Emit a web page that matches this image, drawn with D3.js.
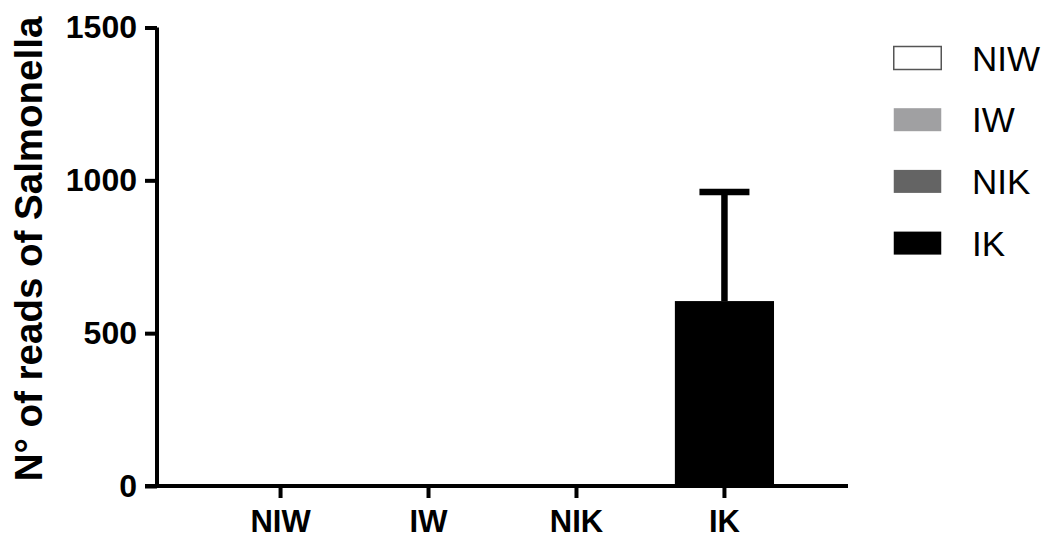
<!DOCTYPE html>
<html>
<head>
<meta charset="utf-8">
<script src="https://cdn.jsdelivr.net/npm/d3@7"></script>
<style>
  body { margin: 0; background: #fff; }
  svg { display: block; font-family: "Liberation Sans", Arial, sans-serif; }
</style>
</head>
<body>
<svg width="1048" height="539"></svg>
<script>
// data
var groups = ['NIW', 'IW', 'NIK', 'IK'];
var means = [0, 0, 0, 605];
var errors = [0, 0, 0, 357];
var fills = ['#ffffff', '#a0a0a2', '#646464', '#000000'];
var yTicks = [0, 500, 1000, 1500];

var svg = d3.select('svg');

var xScale = d3.scaleBand()
  .domain(groups)
  .range([157, 848])
  .paddingInner(0.33)
  .paddingOuter(0.5);

var yScale = d3.scaleLinear()
  .domain([0, 1500])
  .range([486, 27.5]);

// bars
svg.append('g').selectAll('rect').data(groups).enter()
  .append('rect')
  .attr('x', function(d) { return xScale(d); })
  .attr('width', xScale.bandwidth())
  .attr('y', function(d, i) { return yScale(means[i]); })
  .attr('height', function(d, i) { return yScale(0) - yScale(means[i]); })
  .attr('fill', function(d, i) { return fills[i]; });

// error bars (upper only)
var errG = svg.append('g').attr('stroke', '#000').attr('stroke-width', 6.5);
groups.forEach(function(d, i) {
  if (errors[i] <= 0) return;
  var cx = xScale(d) + xScale.bandwidth() / 2;
  errG.append('line')
    .attr('x1', cx).attr('x2', cx)
    .attr('y1', yScale(means[i])).attr('y2', yScale(means[i] + errors[i]));
  errG.append('line')
    .attr('x1', cx - 25).attr('x2', cx + 25)
    .attr('y1', yScale(means[i] + errors[i])).attr('y2', yScale(means[i] + errors[i]));
});

// y axis
var yAxis = d3.axisLeft(yScale).tickValues(yTicks).tickFormat(d3.format('d'))
  .tickSize(12).tickPadding(8).tickSizeOuter(0);
var yG = svg.append('g').attr('transform', 'translate(157,0)').call(yAxis);
yG.select('.domain').attr('stroke-width', 4).attr('d', 'M0,' + yScale(1500) + 'V' + (yScale(0) + 2));
yG.selectAll('.tick line').attr('stroke-width', 4);
yG.selectAll('.tick text')
  .attr('font-size', 32).attr('font-weight', 'bold').attr('fill', '#000')
  .attr('font-family', '"Liberation Sans", Arial, sans-serif');

// x axis
var xAxis = d3.axisBottom(xScale).tickSize(12).tickPadding(12).tickSizeOuter(0);
var xG = svg.append('g').attr('transform', 'translate(0,486)').call(xAxis);
xG.select('.domain').attr('stroke-width', 4).attr('d', 'M145,0H848');
xG.selectAll('.tick line').attr('stroke-width', 4);
xG.selectAll('.tick text')
  .attr('font-size', 31).attr('font-weight', 'bold').attr('fill', '#000')
  .attr('font-family', '"Liberation Sans", Arial, sans-serif');

// y title
svg.append('text')
  .attr('transform', 'translate(42,249) rotate(-90)')
  .attr('text-anchor', 'middle')
  .attr('font-size', 38.5)
  .attr('font-weight', 'bold')
  .text('N° of reads of Salmonella');

// legend
var legend = svg.append('g').selectAll('g').data(groups).enter()
  .append('g')
  .attr('transform', function(d, i) { return 'translate(893,' + (58 + i * 61.7) + ')'; });

legend.append('rect')
  .attr('x', 0.75).attr('y', -11.5)
  .attr('width', 47.5).attr('height', 23)
  .attr('fill', function(d, i) { return fills[i]; })
  .attr('stroke', function(d, i) { return i === 0 ? '#555' : 'none'; })
  .attr('stroke-width', 1.5);

legend.append('text')
  .attr('x', 79)
  .attr('y', 12.5)
  .attr('font-size', 35)
  .text(function(d) { return d; });
</script>
</body>
</html>
